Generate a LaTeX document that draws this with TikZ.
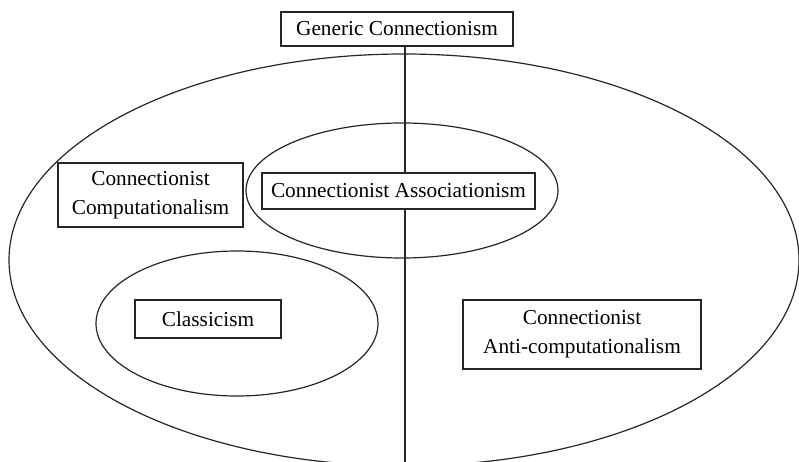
\documentclass[tikz,border=0pt]{standalone}
\usepackage{fontspec}
\setmainfont{Liberation Serif}
\begin{document}
\begin{tikzpicture}[x=1pt,y=-1pt,
  line width=1.2pt,
  ln/.style={draw=black!85, line width=1.2pt},
  lbl/.style={draw=black!85, fill=white, line width=1.2pt, inner sep=0pt, align=center,
    font=\fontsize{21.3}{29}\selectfont}]
\useasboundingbox (0,0) rectangle (799,462);
\clip (0,0) rectangle (799,462);
\draw[ln] (404,260) ellipse [x radius=395, y radius=206];
\draw[ln] (402,190.5) ellipse [x radius=156, y radius=67.5];
\draw[ln] (237,323.5) ellipse [x radius=141, y radius=72.5];
\coordinate (lineend) at (405,470);
\node[lbl, minimum width=232pt, minimum height=34pt] (generic) at (397,29) {Generic Connectionism};
\draw[ln] (generic.south -| lineend) -- (lineend);
\node[lbl, minimum width=273pt, minimum height=36pt] (assoc) at (398.5,191) {Connectionist Associationism};
\node[lbl, minimum width=185pt, minimum height=64pt] (comp) at (150.5,195) {Connectionist\\Computationalism};
\node[lbl, minimum width=146pt, minimum height=38pt] (classic) at (208,319) {Classicism};
\node[lbl, minimum width=238pt, minimum height=69pt] (anti) at (582,334.5) {Connectionist\\Anti-computationalism};
\end{tikzpicture}
\end{document}
